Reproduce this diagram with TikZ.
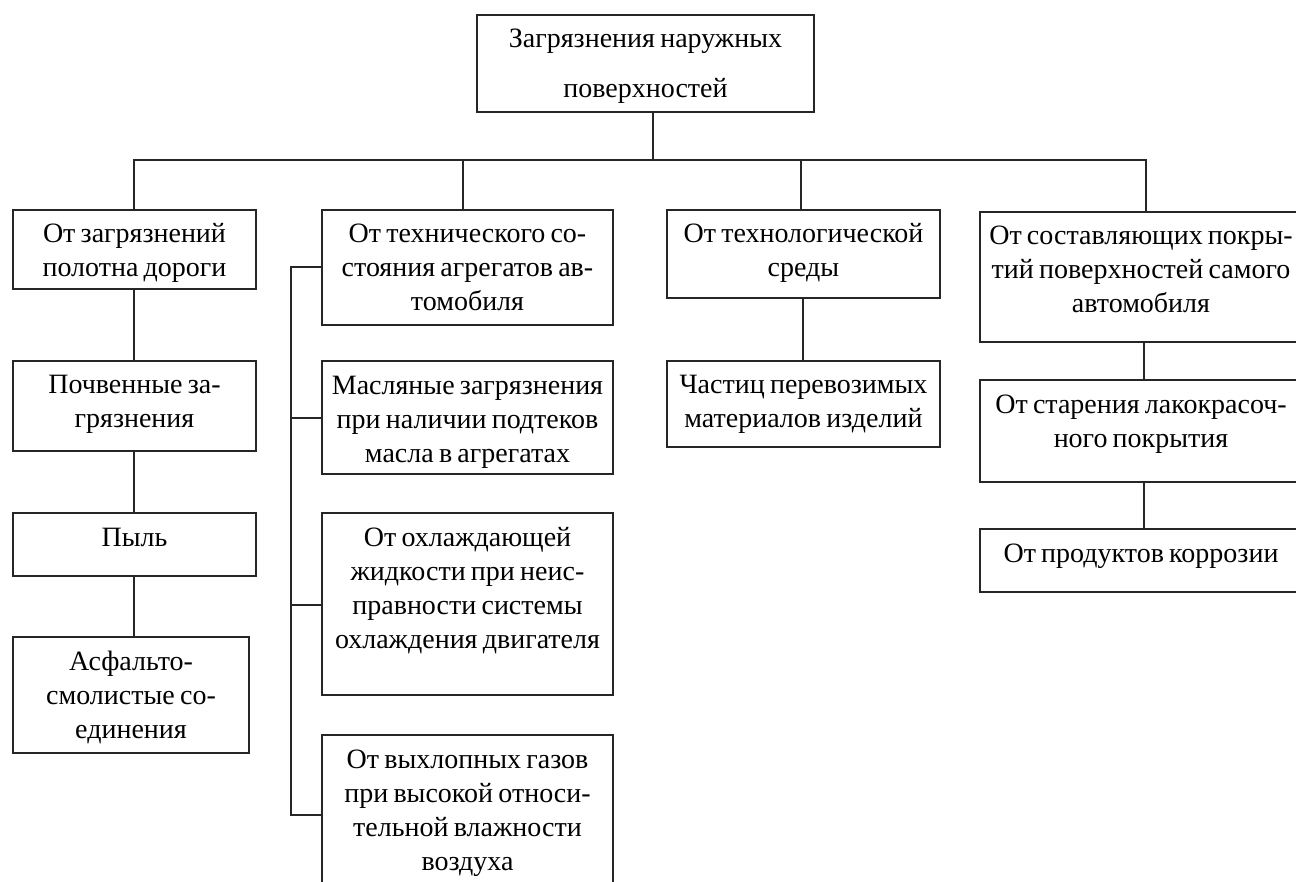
\documentclass[tikz,border=0pt]{standalone}
\usepackage{fontspec}
\setmainfont{Liberation Serif}[WordSpace=0.75]
\usetikzlibrary{calc}
\tikzset{
  boxsty/.style={draw=black!85, line width=1.2pt, rectangle, inner sep=0pt, outer sep=0pt},
  lblsty/.style={inner sep=0pt, outer sep=0pt, align=center, font=\fontsize{28}{34}\selectfont},
  toplbl/.style={lblsty, font=\fontsize{28}{50}\selectfont},
  conn/.style={draw=black!85, line width=1.2pt},
}
\newcommand\topstrut{\rule{0pt}{24pt}}
% name, x1, y1, x2, y2, text
\newcommand\bx[6]{%
  \pgfmathsetmacro\bxw{#4-#2}%
  \pgfmathsetmacro\bxh{#5-#3}%
  \node[boxsty, minimum width=\bxw pt, minimum height=\bxh pt, anchor=north west] (#1) at (#2,#3) {};
  \node[lblsty, anchor=north] (#1t) at ([yshift=-9pt]#1.north) {\topstrut#6};
}
\begin{document}
\begin{tikzpicture}[x=1pt,y=-1pt]
\clip (0,0) rectangle (1296,882);
\fill[white] (0,0) rectangle (1296,882);

% top box
\node[boxsty, minimum width=337pt, minimum height=97pt, anchor=north west] (top) at (477,15) {};
\node[toplbl, anchor=north] (topt) at ([yshift=-9pt]top.north) {\topstrut Загрязнения наружных\\поверхностей};

% level 1
\bx{A}{13}{210}{256}{289}{От загрязнений\\полотна дороги}
\bx{B}{322}{210}{613}{325}{От технического со-\\стояния агрегатов ав-\\томобиля}
\bx{C}{667}{210}{940}{298}{От технологической\\среды}
\bx{D}{980}{212}{1302}{342}{От составляющих покры-\\тий поверхностей самого\\автомобиля}

% column A
\bx{A1}{13}{361}{256}{451}{Почвенные за-\\грязнения}
\bx{A2}{13}{513}{256}{576}{Пыль}
\bx{A3}{13}{637}{249}{753}{Асфальто-\\смолистые со-\\единения}

% column B
\bx{B1}{322}{361}{613}{474}{Масляные загрязнения\\при наличии подтеков\\масла в агрегатах}
\bx{B2}{322}{513}{613}{695}{От охлаждающей\\жидкости при неис-\\правности системы\\охлаждения двигателя}
\bx{B3}{322}{735}{613}{900}{От выхлопных газов\\при высокой относи-\\тельной влажности\\воздуха}

% column C
\bx{C1}{667}{361}{940}{447}{Частиц перевозимых\\материалов изделий}

% column D
\bx{D1}{980}{380}{1302}{482}{От старения лакокрасоч-\\ного покрытия}
\bx{D2}{980}{529}{1302}{592}{От продуктов коррозии}

% connectors: top to bar
\coordinate (j0) at (653,160);
\coordinate (bA) at (134,160);
\coordinate (bB) at (463,160);
\coordinate (bC) at (801,160);
\coordinate (bD) at (1146,160);
\draw[conn] (top.south -| j0) -- (j0);
\draw[conn] (bA |- A.north) -- (bA) -- (bD) -- (bD |- D.north);
\draw[conn] (bB) -- (bB |- B.north);
\draw[conn] (bC) -- (bC |- C.north);

% column A chain
\coordinate (cA) at (134,0);
\draw[conn] (cA |- A.south) -- (cA |- A1.north);
\draw[conn] (cA |- A1.south) -- (cA |- A2.north);
\draw[conn] (cA |- A2.south) -- (cA |- A3.north);

% column B spine
\coordinate (s1) at (291,267);
\coordinate (s2) at (291,418);
\coordinate (s3) at (291,605);
\coordinate (s4) at (291,815);
\draw[conn] (s1 -| B.west) -- (s1) -- (s4) -- (s4 -| B3.west);
\draw[conn] (s2) -- (s2 -| B1.west);
\draw[conn] (s3) -- (s3 -| B2.west);

% column C
\coordinate (cC) at (803,0);
\draw[conn] (cC |- C.south) -- (cC |- C1.north);

% column D
\coordinate (cD) at (1144,0);
\draw[conn] (cD |- D.south) -- (cD |- D1.north);
\draw[conn] (cD |- D1.south) -- (cD |- D2.north);
\end{tikzpicture}
\end{document}
